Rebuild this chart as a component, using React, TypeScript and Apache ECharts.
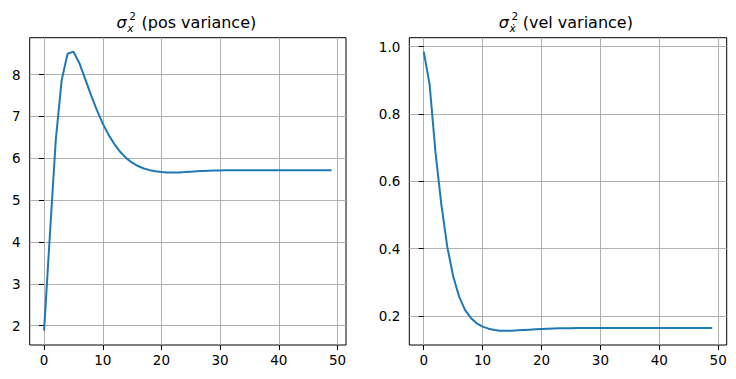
import React, { useEffect, useRef } from "react";
import * as echarts from "echarts";

const steps: number[] = Array.from({ length: 50 }, (_, i) => i);

const posVariance: number[] = [
  1.88, 4.2, 6.45, 7.87, 8.5, 8.55, 8.28, 7.9, 7.51, 7.15,
  6.83, 6.56, 6.335, 6.15, 6.005, 5.895, 5.815, 5.757, 5.717, 5.69,
  5.672, 5.663, 5.66, 5.663, 5.67, 5.68, 5.69, 5.698, 5.703, 5.707,
  5.71, 5.712, 5.713, 5.713, 5.714, 5.714, 5.714, 5.714, 5.714, 5.714,
  5.714, 5.714, 5.714, 5.714, 5.714, 5.714, 5.714, 5.714, 5.714, 5.714,
];

const velVariance: number[] = [
  0.985, 0.888, 0.685, 0.53, 0.405, 0.318, 0.258, 0.218, 0.194, 0.178,
  0.168, 0.162, 0.158, 0.156, 0.1555, 0.156, 0.157, 0.158, 0.159, 0.16,
  0.161, 0.162, 0.1625, 0.163, 0.1633, 0.1635, 0.1637, 0.1638, 0.1639, 0.164,
  0.164, 0.164, 0.164, 0.164, 0.164, 0.164, 0.164, 0.164, 0.164, 0.164,
  0.164, 0.164, 0.164, 0.164, 0.164, 0.164, 0.164, 0.164, 0.164, 0.164,
];

const xTicks: number[] = [0, 10, 20, 30, 40, 50];
const posTicks: number[] = [2, 3, 4, 5, 6, 7, 8];
const velTicks: number[] = [0.2, 0.4, 0.6, 0.8, 1.0];

const FONT = '"DejaVu Sans", "Liberation Sans", sans-serif';
const LINE = "#1f77b4";
const GRIDC = "#b0b0b0";

export default function App() {
  const ref = useRef<HTMLDivElement>(null);
  useEffect(() => {
    if (!ref.current) return;
    const chart = echarts.init(ref.current, undefined, { renderer: "svg" });

    const xAxisBase = (gridIndex: number) => ({
      type: "value" as const,
      gridIndex,
      min: -2.45,
      max: 51.45,
      axisLine: { show: false },
      axisTick: {
        show: true,
        customValues: xTicks,
        length: 5,
        inside: false,
        lineStyle: { color: "#000", width: 1 },
      },
      axisLabel: {
        customValues: xTicks,
        color: "#000",
        fontFamily: FONT,
        fontSize: 13.5,
        margin: 8,
      },
      splitLine: { show: true, lineStyle: { color: GRIDC, width: 1 } },
    });

    const yAxisBase = (gridIndex: number, min: number, max: number, ticks: number[], fmt: (v: number) => string) => ({
      type: "value" as const,
      gridIndex,
      min,
      max,
      axisLine: { show: false },
      axisTick: {
        show: true,
        customValues: ticks,
        length: 5,
        inside: false,
        lineStyle: { color: "#000", width: 1 },
      },
      axisLabel: {
        customValues: ticks,
        color: "#000",
        fontFamily: FONT,
        fontSize: 13.5,
        margin: 9,
        formatter: (v: number) => fmt(v),
      },
      splitLine: { show: true, lineStyle: { color: GRIDC, width: 1 } },
    });

    const titleParts = (sx: number, sub: string, rest: string, restX: number) => [
      {
        type: "text",
        x: sx,
        y: 22.5,
        style: { text: "σ", font: `italic 16px ${FONT}`, fill: "#000", textAlign: "left", textVerticalAlign: "middle" },
      },
      {
        type: "text",
        x: sx + 10.8,
        y: 21.75,
        style: {
          text: `{sup|2}\n{sub|${sub}}`,
          fill: "#000",
          textAlign: "left",
          textVerticalAlign: "middle",
          rich: {
            sup: { fontFamily: FONT, fontSize: 10.5, lineHeight: 12.4, padding: [0, 0, 0, 2], fill: "#000" },
            sub: { fontFamily: FONT, fontStyle: "italic", fontSize: 10.5, lineHeight: 12.4, fill: "#000" },
          },
        },
      },
      {
        type: "text",
        x: restX,
        y: 22.5,
        style: { text: rest, font: `16px ${FONT}`, fill: "#000", textAlign: "left", textVerticalAlign: "middle" },
      },
    ];

    chart.setOption({
      animation: false,
      backgroundColor: "#fff",
      grid: [
        { left: 29.7, top: 37.7, width: 316.3, height: 307.3, show: true, borderColor: "#000", borderWidth: 1, backgroundColor: "transparent", containLabel: false },
        { left: 409.3, top: 37.7, width: 317.4, height: 307.3, show: true, borderColor: "#000", borderWidth: 1, backgroundColor: "transparent", containLabel: false },
      ],
      xAxis: [xAxisBase(0), xAxisBase(1)],
      yAxis: [
        yAxisBase(0, 1.536, 8.884, posTicks, (v) => String(Math.round(v))),
        yAxisBase(1, 0.1135, 1.0265, velTicks, (v) => v.toFixed(1)),
      ],
      graphic: [
        ...titleParts(116.5, "x", "(pos variance)", 141.5),
        ...titleParts(498.8, "ẋ", "(vel variance)", 522.7),
      ],
      series: [
        {
          type: "line",
          xAxisIndex: 0,
          yAxisIndex: 0,
          data: steps.map((s, i) => [s, posVariance[i]]),
          showSymbol: false,
          lineStyle: { color: LINE, width: 2 },
          itemStyle: { color: LINE },
        },
        {
          type: "line",
          xAxisIndex: 1,
          yAxisIndex: 1,
          data: steps.map((s, i) => [s, velVariance[i]]),
          showSymbol: false,
          lineStyle: { color: LINE, width: 2 },
          itemStyle: { color: LINE },
        },
      ],
    });
    return () => chart.dispose();
  }, []);
  return (
    <div
      ref={ref}
      style={{ position: "absolute", left: 0, top: 0, width: 736, height: 379, background: "#fff" }}
    />
  );
}
